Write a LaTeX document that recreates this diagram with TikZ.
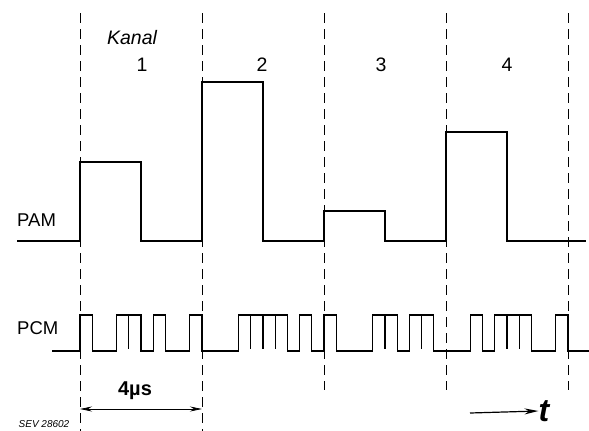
\documentclass[tikz,border=0pt]{standalone}
\usepackage{fontspec}
\setmainfont{Liberation Sans}
\usetikzlibrary{arrows.meta}
\begin{document}
\begin{tikzpicture}[x=1pt,y=-1pt,
  sig/.style={line width=1.3pt, line join=miter},
  spike/.style={line width=1.2pt},
  gridline/.style={line width=0.8pt, dash pattern=on 10pt off 6pt},
  lbl/.style={font=\fontsize{18.5}{18.5}\selectfont, inner sep=0pt},
  dimarrow/.style={line width=0.8pt, {Stealth[length=12pt,width=5pt]}-{Stealth[length=12pt,width=5pt]}},
  tarrow/.style={line width=1.2pt, -{Stealth[length=14pt,width=6pt]}},
]
\useasboundingbox (0,0) rectangle (589,431);

% channel boundaries (dashed)
\foreach \n/\x/\yb in {a/80/431, b/202/431, c/324/390, d/446/390, e/568/390}{
  \coordinate (top\n) at (\x,13);
  \coordinate (bot\n) at (\x,\yb);
  \draw[gridline] (top\n) -- (bot\n);
}

% labels
\node[lbl, font=\fontsize{19.5}{19.5}\selectfont\itshape] (kanal) at (132,38) {Kanal};
\node[lbl, font=\fontsize{19.5}{19.5}\selectfont] (k1) at (142,65) {1};
\node[lbl, font=\fontsize{19.5}{19.5}\selectfont] (k2) at (262,65) {2};
\node[lbl, font=\fontsize{19.5}{19.5}\selectfont] (k3) at (381,65) {3};
\node[lbl, font=\fontsize{19.5}{19.5}\selectfont] (k4) at (507,65) {4};
\node[lbl, anchor=west] (pam) at (17,220) {PAM};
\node[lbl, anchor=west] (pcm) at (17,328) {PCM};

% PAM signal
\draw[sig] (17,241) -- (80,241) -- (80,162) -- (141,162) -- (141,241)
  -- (202,241) -- (202,82) -- (263,82) -- (263,241)
  -- (324,241) -- (324,211) -- (385,211) -- (385,241)
  -- (446,241) -- (446,132) -- (507,132) -- (507,241) -- (586,241);

% PCM signal
\def\lo{351}\def\hi{315}
\draw[sig] (52,\lo)
  -- (80,\lo) -- (80,\hi) -- (92.2,\hi) -- (92.2,\lo)
  -- (116.6,\lo) -- (116.6,\hi) -- (141,\hi) -- (141,\lo)
  -- (153.2,\lo) -- (153.2,\hi) -- (165.4,\hi) -- (165.4,\lo)
  -- (189.8,\lo) -- (189.8,\hi) -- (202,\hi) -- (202,\lo)
  -- (238.6,\lo) -- (238.6,\hi) -- (287.4,\hi) -- (287.4,\lo)
  -- (299.6,\lo) -- (299.6,\hi) -- (311.8,\hi) -- (311.8,\lo)
  -- (324,\lo) -- (324,\hi) -- (336.2,\hi) -- (336.2,\lo)
  -- (372.8,\lo) -- (372.8,\hi) -- (397.2,\hi) -- (397.2,\lo)
  -- (409.4,\lo) -- (409.4,\hi) -- (433.8,\hi) -- (433.8,\lo)
  -- (470.4,\lo) -- (470.4,\hi) -- (482.6,\hi) -- (482.6,\lo)
  -- (494.8,\lo) -- (494.8,\hi) -- (531.4,\hi) -- (531.4,\lo)
  -- (555.8,\lo) -- (555.8,\hi) -- (568,\hi) -- (568,\lo)
  -- (589,\lo);
\foreach \x in {128.8, 250.8, 263, 275.2, 385, 421.6, 507, 519.2}{
  \draw[spike] (\x,\hi) -- (\x,349);
}

% 4 us dimension
\coordinate (dl) at (80,409);
\coordinate (dr) at (202,409);
\draw[dimarrow] (dl) -- (dr);
\node[lbl, font=\fontsize{20}{20}\selectfont\bfseries] (dur) at (135,391) {4µs};

% time arrow
\coordinate (ts) at (470,413);
\node[inner sep=0pt, font=\fontsize{32}{32}\selectfont\itshape\bfseries] (t) at (544,411) {t};
\draw[tarrow] (ts) -- (t.west);

% figure number
\node[inner sep=0pt, font=\fontsize{10}{10}\selectfont\itshape] (sev) at (44,424) {SEV 28602};
\end{tikzpicture}
\end{document}
